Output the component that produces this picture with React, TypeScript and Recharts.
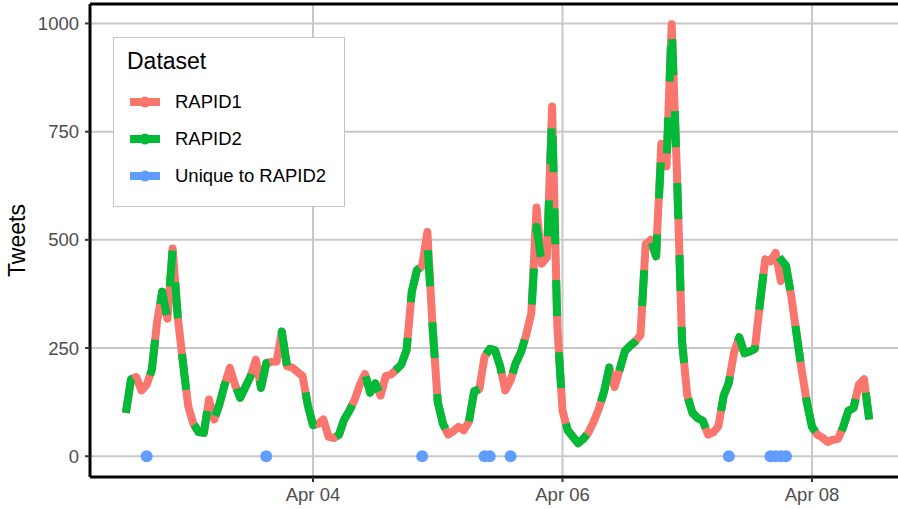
import React from 'react';
import { ComposedChart, Line, XAxis, YAxis, CartesianGrid, Label, ReferenceLine } from 'recharts';

// hours relative to Apr 04 00:00, one value per hour
const HOUR_START = -36;

const rapid1 = [
  100, 178, 183, 152, 165, 200, 310, 380, 318, 480, 320, 215,
  115, 75, 56, 54, 131, 85, 120, 165, 204, 165, 135, 160,
  185, 223, 158, 215, 218, 219, 288, 208, 205, 195, 185, 118,
  72, 75, 85, 45, 42, 50, 85, 105, 130, 165, 190, 147,
  168, 140, 185, 189, 200, 212, 245, 380, 430, 440, 518, 300,
  125, 75, 50, 58, 68, 60, 80, 150, 155, 230, 248, 245,
  208, 152, 175, 215, 240, 280, 330, 575, 445, 460, 808, 300,
  105, 60, 45, 30, 40, 55, 80, 110, 150, 205, 160, 200,
  243, 255, 265, 280, 490, 500, 462, 722, 670, 998, 660, 265,
  140, 100, 88, 82, 50, 55, 70, 140, 170, 240, 275, 238,
  242, 248, 355, 455, 450, 470, 405, 440, 370, 285, 200, 125,
  68, 50, 43, 33, 38, 40, 68, 105, 112, 165, 178, 85,
];

const rapid2 = [
  100, 178, 183, 152, 165, 200, 310, 380, 318, 480, 320, 215,
  115, 75, 56, 54, 131, 85, 120, 165, 204, 165, 135, 160,
  185, 223, 158, 215, 218, 219, 288, 208, 205, 195, 185, 118,
  72, 75, 85, 45, 42, 50, 85, 105, 130, 165, 190, 147,
  168, 140, 185, 189, 200, 212, 245, 380, 430, 440, 495, 300,
  125, 75, 50, 58, 68, 60, 80, 150, 155, 230, 248, 245,
  208, 152, 175, 215, 240, 280, 330, 530, 445, 460, 790, 300,
  105, 60, 45, 30, 40, 55, 80, 110, 150, 205, 160, 200,
  243, 255, 265, 280, 490, 500, 462, 700, 670, 998, 660, 265,
  140, 100, 88, 82, 50, 55, 70, 140, 170, 240, 275, 238,
  242, 248, 355, 455, 450, 470, 455, 440, 370, 285, 200, 125,
  68, 50, 43, 33, 38, 40, 68, 105, 112, 165, 178, 85,
];

// hours where a tweet exists only in RAPID2
const uniqueHours = [-32, -9, 21, 33, 34, 38, 80, 88, 89, 90, 91];

const xTicks = [0, 48, 96];
const xTickLabels = ['Apr 04', 'Apr 06', 'Apr 08'];
const yTicks = [0, 250, 500, 750, 1000];

const FONT = '"Liberation Sans", Arial, sans-serif';
const RED = '#F8766D';
const GREEN = '#00BA38';
const BLUE = '#619CFF';
const GRID = '#c8c8c8';
const Y_MAX = 1045;

const seriesData = rapid1.map((v, i) => ({ h: HOUR_START + i, r1: v, r2: rapid2[i] }));
const uniqueData = uniqueHours.map((h) => ({ h, u: 0 }));

const legendItems = [
  { label: 'RAPID1', color: RED },
  { label: 'RAPID2', color: GREEN },
  { label: 'Unique to RAPID2', color: BLUE },
];

const LegendBox = () => (
  <div
    style={{
      position: 'absolute', left: 113, top: 37, width: 230, height: 168,
      background: '#fff', border: '1px solid #c4c4c4', fontFamily: FONT,
    }}
  >
    <div style={{ position: 'absolute', left: 13, top: 10, fontSize: 23, color: '#000' }}>Dataset</div>
    {legendItems.map((item, i) => (
      <div key={item.label} style={{ position: 'absolute', left: 16, top: 52 + i * 37, height: 24, display: 'flex', alignItems: 'center' }}>
        <svg width={30} height={24}>
          <line x1={0} y1={12} x2={30} y2={12} stroke={item.color} strokeWidth={8} />
          <circle cx={15} cy={12} r={5.5} fill={item.color} />
        </svg>
        <span style={{ marginLeft: 15, fontSize: 18.5, color: '#000' }}>{item.label}</span>
      </div>
    ))}
  </div>
);

export default function App() {
  return (
    <div style={{ position: 'absolute', left: 0, top: 0, width: 898, height: 509, background: '#fff', overflow: 'hidden' }}>
      <ComposedChart width={898} height={509} margin={{ top: 4, right: 0, bottom: 0, left: 0 }}>
        <CartesianGrid stroke={GRID} strokeWidth={2} vertical={false} />
        {xTicks.map((t) => (
          <ReferenceLine key={t} x={t} stroke={GRID} strokeWidth={2} />
        ))}
        <XAxis
          type="number"
          dataKey="h"
          domain={[-42.9, 112.54]}
          ticks={xTicks}
          tickFormatter={(v) => xTickLabels[xTicks.indexOf(v)]}
          allowDataOverflow
          height={32}
          tickSize={5}
          tickMargin={6}
          axisLine={{ stroke: '#000', strokeWidth: 3 }}
          tickLine={{ stroke: '#333', strokeWidth: 2 }}
          tick={{ fontSize: 18.5, fill: '#4d4d4d', fontFamily: FONT }}
        />
        <YAxis
          type="number"
          domain={[-48, Y_MAX]}
          ticks={yTicks}
          allowDataOverflow
          width={90}
          tickSize={5}
          tickMargin={6}
          axisLine={{ stroke: '#000', strokeWidth: 3 }}
          tickLine={{ stroke: '#333', strokeWidth: 2 }}
          tick={{ fontSize: 18.5, fill: '#4d4d4d', fontFamily: FONT }}
        >
          <Label
            content={({ viewBox }: any) => {
              const cy = viewBox.y + viewBox.height / 2;
              return (
                <text x={25} y={cy} transform={`rotate(-90, 25, ${cy})`} textAnchor="middle"
                  fontSize={23} fontFamily={FONT} fill="#000">Tweets</text>
              );
            }}
          />
        </YAxis>
        <ReferenceLine y={Y_MAX} stroke="#000" strokeWidth={3} />
        <Line data={seriesData} dataKey="r1" type="linear" stroke={RED} strokeWidth={8}
          strokeLinejoin="round" dot={false} activeDot={false} isAnimationActive={false} />
        <Line data={seriesData} dataKey="r2" type="linear" stroke={GREEN} strokeWidth={8}
          strokeDasharray="36 36" strokeLinejoin="round" dot={false} activeDot={false} isAnimationActive={false} />
        <Line data={uniqueData} dataKey="u" stroke="none" dot={{ r: 6, fill: BLUE, stroke: 'none' }}
          activeDot={false} isAnimationActive={false} />
      </ComposedChart>
      <LegendBox />
    </div>
  );
}
